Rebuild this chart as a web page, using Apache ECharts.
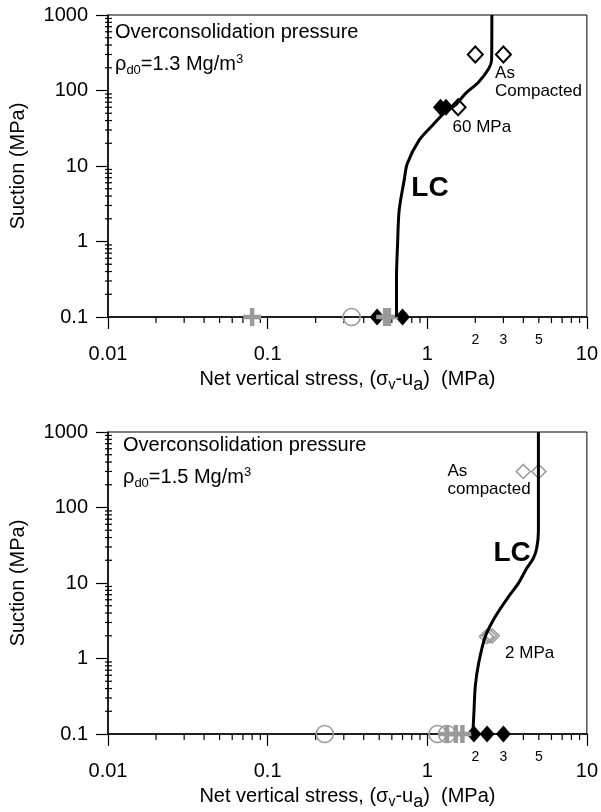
<!DOCTYPE html>
<html>
<head>
<meta charset="utf-8">
<script src="https://cdn.jsdelivr.net/npm/echarts@6/dist/echarts.min.js"></script>
<style>
  html, body { margin: 0; padding: 0; background: #fff; }
  #chart { width: 601px; height: 812px; }
</style>
</head>
<body>
<div id="chart"></div>
<script>
// tick values
const xMinorTicks = [0.02, 0.03, 0.04, 0.05, 0.06, 0.07, 0.08, 0.09,
  0.2, 0.3, 0.4, 0.5, 0.6, 0.7, 0.8, 0.9, 2, 3, 4, 5, 6, 7, 8, 9]
const xMinorLabels = [2, 3, 5]
const yMinorTicks = [0.2, 0.3, 0.4, 0.5, 0.6, 0.7, 0.8, 0.9, 2, 3, 4, 5, 6, 7, 8, 9,
  20, 30, 40, 50, 60, 70, 80, 90, 200, 300, 400, 500, 600, 700, 800, 900]

// top panel, rho_d0 = 1.3
const lcTopX = [0.642, 0.642, 0.652, 0.667, 0.717, 0.75, 0.89, 1.08, 1.30, 1.50, 1.74, 2.10, 2.43, 2.53, 2.54]
const lcTopY = [0.1, 0.34, 0.95, 2.6, 6.5, 10.8, 22, 34.7, 52, 64, 91.6, 130, 196, 253, 1000]
const topBlackDiamondX = [0.485, 0.70, 1.21, 1.31]
const topBlackDiamondY = [0.1, 0.1, 60, 60]
const topOpenDiamondX = [1.56, 2, 3]
const topOpenDiamondY = [60, 300, 300]
const topGrayCircleX = [0.336]
const topGrayCircleY = [0.1]
const topGrayPlusX = [0.08, 0.545, 0.575]
const topGrayPlusY = [0.1, 0.1, 0.1]

// bottom panel, rho_d0 = 1.5
const lcBotX = [1.93, 1.96, 2.0, 2.10, 2.31, 2.67, 3.23, 3.73, 4.20, 4.62, 4.85, 4.97, 4.97]
const lcBotY = [0.1, 0.19, 0.43, 0.87, 1.96, 3.6, 6.6, 9.96, 15.7, 21.3, 28.9, 48, 1000]
const botBlackDiamondX = [1.96, 2.37, 3.0]
const botBlackDiamondY = [0.1, 0.1, 0.1]
const botGrayDiamondX = [4, 5, 2.35, 2.45, 2.55]
const botGrayDiamondY = [300, 300, 1.95, 2.0, 2.0]
const botGrayCircleX = [0.228, 1.16, 1.33]
const botGrayCircleY = [0.1, 0.1, 0.1]
const botGrayPlusX = [1.33, 1.51, 1.66]
const botGrayPlusY = [0.1, 0.1, 0.1]

// annotations: [x, y, text]
const topNotes = [[2.64, 127, "As\nCompacted"], [1.43, 33, "60 MPa"]]
const botNotes = [[1.33, 232, "As\ncompacted"], [3.05, 1.18, "2 MPa"]]
const topLC = [[0.789, 5.0, "LC"]]
const botLC = [[2.58, 24.8, "LC"]]

const FONT = '"Liberation Sans", Arial, Helvetica, sans-serif'
const GRAY = "#9a9a9a"
const PLUS = "path://M3,0H5V3H8V5H5V8H3V5H0V3H3Z"

const zip = (xs, ys) => xs.map((x, i) => [x, ys[i]])
const fmt = v => String(Number(Number(v).toPrecision(2)))

function xAxisFor(i) {
  return {
    type: "log", logBase: 10, gridIndex: i, min: 0.01, max: 10,
    name: "Net vertical stress, (σ{sub|v}-u{suba|a})  (MPa)",
    nameLocation: "middle", nameGap: 47,
    nameTextStyle: {
      fontSize: 20, fontFamily: FONT, color: "#000",
      rich: {
        sub: { fontSize: 14, fontFamily: FONT, color: "#000", padding: [12, 0, 0, 0] },
        suba: { fontSize: 18, fontFamily: FONT, color: "#000", padding: [12, 0, 0, 0] },
      },
    },
    axisLine: { show: true, onZero: false, lineStyle: { color: "#000", width: 1.5 } },
    axisTick: { show: true, length: 12, lineStyle: { color: "#000", width: 1.2 } },
    minorTick: { show: false },
    splitLine: { show: false },
    axisLabel: { fontSize: 20, fontFamily: FONT, color: "#000", margin: 27, formatter: fmt },
  }
}

function yAxisFor(i) {
  return {
    type: "log", logBase: 10, gridIndex: i, min: 0.1, max: 1000,
    name: "Suction (MPa)", nameLocation: "middle", nameGap: 80,
    nameTextStyle: { fontSize: 20, fontFamily: FONT, color: "#000" },
    axisLine: { show: true, onZero: false, lineStyle: { color: "#000", width: 1.5 } },
    axisTick: { show: true, length: 12, lineStyle: { color: "#000", width: 1.2 } },
    splitLine: { show: false },
    axisLabel: { fontSize: 20, fontFamily: FONT, color: "#000", margin: 20, formatter: fmt },
  }
}

function minorTickSeries(i) {
  return [
    {
      type: "custom", xAxisIndex: i, yAxisIndex: i, silent: true, clip: false,
      data: xMinorTicks.map(v => [v, 0.1]),
      renderItem: (params, api) => {
        const v = api.value(0)
        const p = api.coord([v, api.value(1)])
        const children = [{
          type: "line",
          shape: { x1: p[0], y1: p[1], x2: p[0], y2: p[1] + 6 },
          style: { stroke: "#000", lineWidth: 1.2 },
        }]
        if (xMinorLabels.includes(v)) {
          children.push({
            type: "text", x: p[0], y: p[1] + 23,
            style: { text: String(v), fill: "#000", font: "14px " + FONT, align: "center", verticalAlign: "middle" },
          })
        }
        return { type: "group", children }
      },
    },
    {
      type: "custom", xAxisIndex: i, yAxisIndex: i, silent: true, clip: false,
      data: yMinorTicks.map(v => [0.01, v]),
      renderItem: (params, api) => {
        const p = api.coord([api.value(0), api.value(1)])
        return {
          type: "line",
          shape: { x1: p[0] - 3, y1: p[1], x2: p[0] + 4, y2: p[1] },
          style: { stroke: "#000", lineWidth: 1.2 },
        }
      },
    },
  ]
}

function lcSeries(i, xs, ys) {
  return {
    type: "line", xAxisIndex: i, yAxisIndex: i, data: zip(xs, ys),
    smooth: 0.3, showSymbol: false, clip: true, silent: true,
    lineStyle: { color: "#000", width: 3 },
  }
}

function markSeries(i, xs, ys, symbol, size, itemStyle) {
  return {
    type: "scatter", xAxisIndex: i, yAxisIndex: i, data: zip(xs, ys),
    symbol, symbolSize: size, itemStyle: Object.assign({ opacity: 1 }, itemStyle),
    silent: true, clip: false,
  }
}

function noteSeries(i, notes, textStyle) {
  return {
    type: "scatter", xAxisIndex: i, yAxisIndex: i, silent: true,
    data: notes.map(n => ({ value: [n[0], n[1]], label: { formatter: n[2] } })),
    symbolSize: 1, itemStyle: { color: "rgba(0,0,0,0)", opacity: 1 },
    label: Object.assign({ show: true, position: "right", distance: 0, color: "#000", fontFamily: FONT }, textStyle),
  }
}

function panelSeries(i, p) {
  return [
    ...minorTickSeries(i),
    lcSeries(i, p.lcX, p.lcY),
    markSeries(i, p.blackDX, p.blackDY, "diamond", [15, 17], { color: "#000" }),
    markSeries(i, p.openDX, p.openDY, "diamond", [15, 16], { color: "rgba(255,255,255,0)", borderColor: "#000", borderWidth: 2 }),
    markSeries(i, p.grayDX, p.grayDY, "diamond", [14, 14], { color: "rgba(255,255,255,0)", borderColor: GRAY, borderWidth: 1.6 }),
    markSeries(i, p.circX, p.circY, "circle", 17, { color: "rgba(255,255,255,0)", borderColor: GRAY, borderWidth: 1.6 }),
    markSeries(i, p.plusX, p.plusY, PLUS, 18, { color: GRAY }),
    noteSeries(i, p.notes, { fontSize: 17, lineHeight: 18 }),
    noteSeries(i, p.lc, { fontSize: 28, fontWeight: "bold" }),
  ]
}

function headerText(left, top, rho) {
  return [
    {
      type: "text", left, top,
      style: { text: "Overconsolidation pressure", fill: "#000", font: "20px " + FONT },
    },
    {
      type: "text", left, top: top + 31,
      style: {
        text: "ρ{sub|d0}=" + rho + " Mg/m{sup|3}", fill: "#000", font: "20px " + FONT,
        rich: {
          sub: { fontSize: 13, fontFamily: FONT, fill: "#000", padding: [12, 0, 0, 0] },
          sup: { fontSize: 13, fontFamily: FONT, fill: "#000", padding: [0, 0, 10, 0] },
        },
      },
    },
  ]
}

const chart = echarts.init(document.getElementById("chart"), null, { renderer: "canvas" })

chart.setOption({
  backgroundColor: "#fff",
  animation: false,
  textStyle: { fontFamily: FONT },
  grid: [
    { left: 107, top: 15, width: 482, height: 302, show: true, borderColor: "#000", borderWidth: 1, backgroundColor: "transparent" },
    { left: 107, top: 432, width: 482, height: 302, show: true, borderColor: "#000", borderWidth: 1, backgroundColor: "transparent" },
  ],
  xAxis: [xAxisFor(0), xAxisFor(1)],
  yAxis: [yAxisFor(0), yAxisFor(1)],
  graphic: [...headerText(115, 22, "1.3"), ...headerText(123, 435, "1.5")],
  series: [
    ...panelSeries(0, {
      lcX: lcTopX, lcY: lcTopY,
      blackDX: topBlackDiamondX, blackDY: topBlackDiamondY,
      openDX: topOpenDiamondX, openDY: topOpenDiamondY,
      grayDX: [], grayDY: [],
      circX: topGrayCircleX, circY: topGrayCircleY,
      plusX: topGrayPlusX, plusY: topGrayPlusY,
      notes: topNotes, lc: topLC,
    }),
    ...panelSeries(1, {
      lcX: lcBotX, lcY: lcBotY,
      blackDX: botBlackDiamondX, blackDY: botBlackDiamondY,
      openDX: [], openDY: [],
      grayDX: botGrayDiamondX, grayDY: botGrayDiamondY,
      circX: botGrayCircleX, circY: botGrayCircleY,
      plusX: botGrayPlusX, plusY: botGrayPlusY,
      notes: botNotes, lc: botLC,
    }),
  ],
})
</script>
</body>
</html>
